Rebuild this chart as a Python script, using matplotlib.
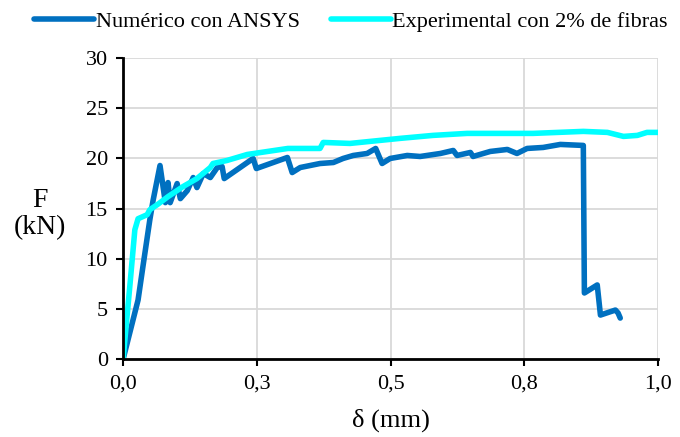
import matplotlib
matplotlib.use("Agg")
import matplotlib.pyplot as plt

plt.rcParams["font.family"] = ["Liberation Serif", "DejaVu Serif"]

# Numérico con ANSYS
num_x = [0.000, 0.028, 0.037, 0.050, 0.056, 0.069, 0.079, 0.084, 0.088, 0.101,
         0.107, 0.120, 0.131, 0.138, 0.150, 0.163, 0.176, 0.185, 0.189, 0.243,
         0.249, 0.307, 0.316, 0.331, 0.368, 0.393, 0.411, 0.430, 0.456, 0.472,
         0.484, 0.499, 0.531, 0.555, 0.593, 0.617, 0.624, 0.649, 0.654, 0.686,
         0.718, 0.736, 0.755, 0.785, 0.817, 0.860, 0.862, 0.886, 0.892, 0.920,
         0.925, 0.929]
num_f = [0.0, 5.9, 9.2, 13.9, 15.8, 19.3, 15.6, 17.6, 15.6, 17.5,
         16.0, 16.8, 18.1, 17.1, 18.5, 18.1, 19.1, 19.2, 18.0, 20.0,
         19.0, 20.1, 18.6, 19.1, 19.5, 19.6, 20.0, 20.3, 20.5, 21.0,
         19.5, 20.0, 20.3, 20.2, 20.5, 20.8, 20.3, 20.6, 20.2, 20.7,
         20.9, 20.5, 21.0, 21.1, 21.4, 21.3, 6.6, 7.4, 4.4, 4.9,
         4.6, 4.1]

# Experimental con 2% de fibras
exp_x = [0.000, 0.013, 0.022, 0.028, 0.045, 0.050, 0.064, 0.084, 0.112, 0.138,
         0.163, 0.168, 0.194, 0.232, 0.308, 0.368, 0.374, 0.424, 0.517, 0.579,
         0.643, 0.766, 0.860, 0.905, 0.935, 0.961, 0.979, 1.000]
exp_f = [0.0, 7.5, 12.9, 14.0, 14.4, 14.9, 15.4, 16.2, 17.2, 18.0,
         19.1, 19.5, 19.8, 20.4, 21.0, 21.0, 21.6, 21.5, 22.0, 22.3,
         22.5, 22.5, 22.7, 22.6, 22.2, 22.3, 22.6, 22.6]

x_ticks = [0.0, 0.25, 0.5, 0.75, 1.0]
x_tick_labels = ["0,0", "0,3", "0,5", "0,8", "1,0"]
y_ticks = [0, 5, 10, 15, 20, 25, 30]

fig = plt.figure(figsize=(6.8, 4.37), dpi=100)
ax = fig.add_axes([0.181, 0.178, 0.787, 0.689])

ax.plot(num_x, num_f, color="#0070C0", lw=4.0, label="Numérico con ANSYS",
        solid_joinstyle="round", solid_capstyle="round")
ax.plot(exp_x, exp_f, color="#00FFFF", lw=4.0, label="Experimental con 2% de fibras",
        solid_joinstyle="round", solid_capstyle="round")

ax.set_xlim(0, 1.0)
ax.set_ylim(0, 30)
ax.set_xticks(x_ticks)
ax.set_xticklabels(x_tick_labels)
ax.set_yticks(y_ticks)
ax.tick_params(labelsize=16, direction="out", length=5, width=1.5, colors="black")
ax.tick_params(axis="x", pad=6)
ax.tick_params(axis="y", pad=6)
ax.grid(True, color="#D9D9D9", lw=1.3)
ax.set_axisbelow(True)

for s in ["top", "right"]:
    ax.spines[s].set_visible(False)
for s in ["left", "bottom"]:
    ax.spines[s].set_linewidth(2)

ax.set_xlabel("δ (mm)", fontsize=19, labelpad=11)
fig.text(0.059, 0.51, "F\n(kN)", fontsize=20, ha="center", va="center", linespacing=1.15)

fig.legend(loc="center", bbox_to_anchor=(0.516, 0.95), ncol=2, frameon=False,
           fontsize=16, handlelength=2.7, handletextpad=0.05, columnspacing=1.4)

fig.savefig("out.png", dpi=100)
